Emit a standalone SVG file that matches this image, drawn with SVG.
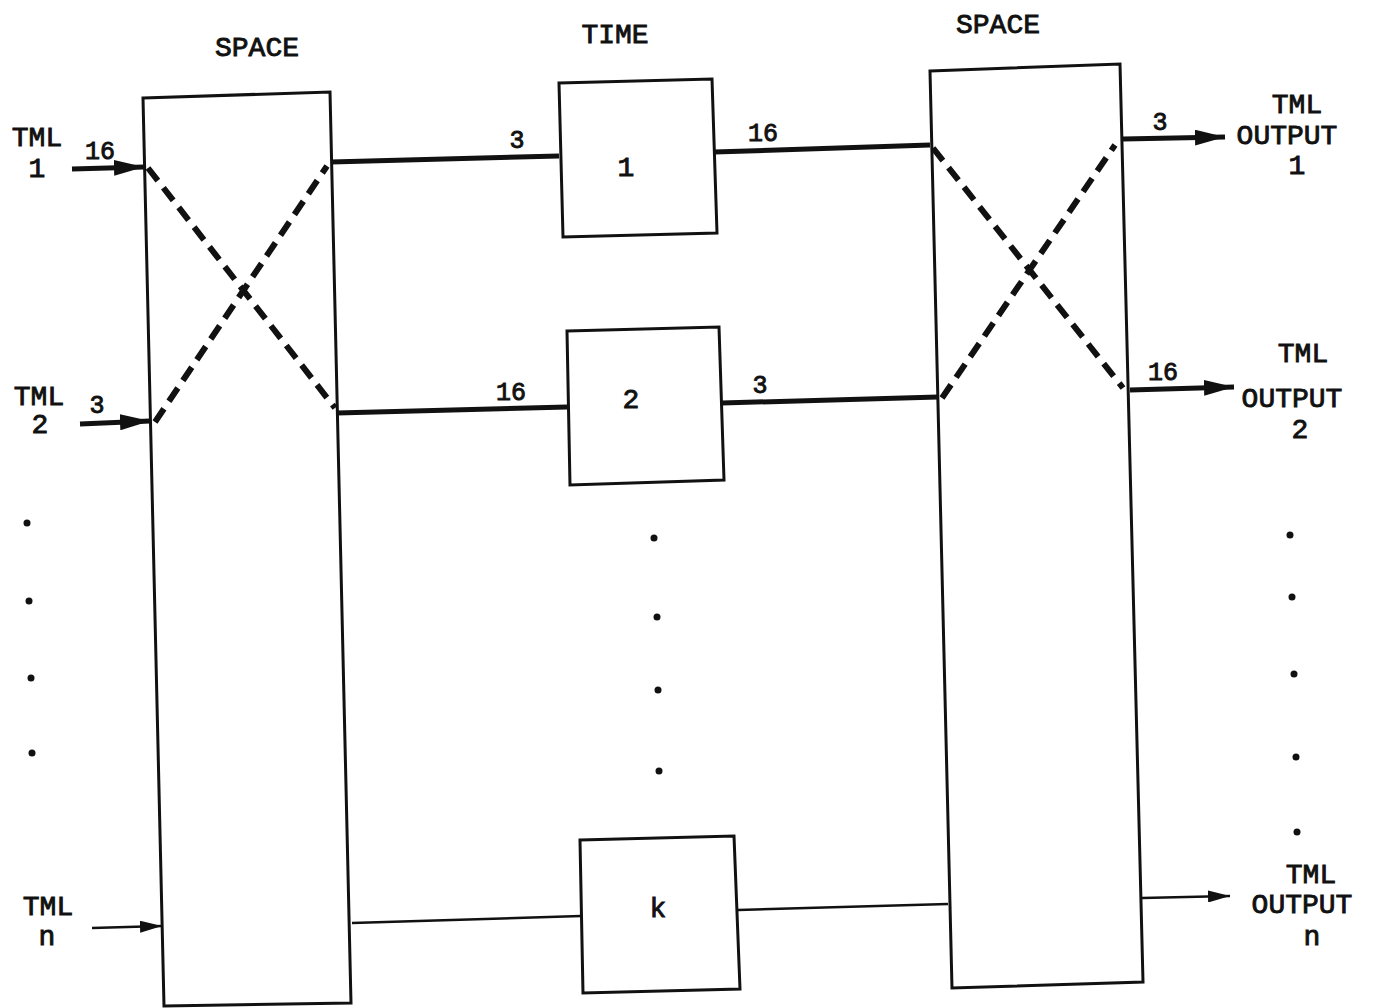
<svg xmlns="http://www.w3.org/2000/svg" width="1375" height="1008" viewBox="0 0 1375 1008">
<style>
.box{fill:none;stroke:#111;stroke-width:3;stroke-linejoin:miter}
.thick{fill:none;stroke:#111;stroke-width:5}
.thin{fill:none;stroke:#111;stroke-width:2.5}
.dash{fill:none;stroke:#111;stroke-width:6;stroke-dasharray:16 9}
text{font-family:"Liberation Mono","DejaVu Sans Mono",monospace;font-weight:normal;fill:#111;stroke:#111;stroke-width:0.9;text-anchor:middle}
.lbl{font-size:28px}
.num{font-size:25px}
.dot{fill:#111}
</style>
<defs>
<marker id="ah" markerWidth="30" markerHeight="16" refX="30" refY="8" orient="auto" markerUnits="userSpaceOnUse">
<path d="M0,0 L30,8 L0,16 Z" fill="#111"/>
</marker>
<marker id="ahs" markerWidth="22" markerHeight="12" refX="22" refY="6" orient="auto" markerUnits="userSpaceOnUse">
<path d="M0,0 L22,6 L0,12 Z" fill="#111"/>
</marker>
</defs>
<rect width="1375" height="1008" fill="#fff"/>

<g id="space-left">
<polygon class="box" points="143,98 330,92 351,1003 164,1006"/>
<text class="lbl" x="257" y="56">SPACE</text>
</g>
<g id="time-1">
<polygon class="box" points="559,83 712,79 717,233 563,237"/>
<text class="lbl" x="626" y="176">1</text>
</g>
<g id="time-2">
<polygon class="box" points="567,331 719,327 724,480 570,485"/>
<text class="lbl" x="631" y="408">2</text>
</g>
<g id="time-k">
<polygon class="box" points="580,840 734,836 740,989 583,993"/>
<text class="lbl" x="658" y="917">k</text>
</g>
<text class="lbl" x="615" y="43">TIME</text>
<g id="space-right">
<polygon class="box" points="930,71 1120,64 1143,982 952,988"/>
<text class="lbl" x="998" y="33">SPACE</text>
</g>

<g id="inputs">
<text class="lbl" x="37" y="146">TML</text>
<text class="lbl" x="37" y="177">1</text>
<text class="lbl" x="39" y="405">TML</text>
<text class="lbl" x="40" y="433">2</text>
<text class="lbl" x="48" y="915">TML</text>
<text class="lbl" x="47" y="945">n</text>
</g>
<g id="outputs">
<text class="lbl" x="1297" y="113">TML</text>
<text class="lbl" x="1287" y="144">OUTPUT</text>
<text class="lbl" x="1297" y="174">1</text>
<text class="lbl" x="1303" y="362">TML</text>
<text class="lbl" x="1292" y="407">OUTPUT</text>
<text class="lbl" x="1300" y="438">2</text>
<text class="lbl" x="1311" y="883">TML</text>
<text class="lbl" x="1302" y="913">OUTPUT</text>
<text class="lbl" x="1312" y="945">n</text>
</g>

<g id="connectors">
<line class="thick" x1="72" y1="169" x2="144" y2="167" marker-end="url(#ah)"/>
<line class="thick" x1="80" y1="424" x2="150" y2="421" marker-end="url(#ah)"/>
<line class="thin" x1="92" y1="928" x2="162" y2="926" marker-end="url(#ahs)"/>
<line class="dash" x1="148" y1="168" x2="335" y2="408"/>
<line class="dash" x1="155" y1="422" x2="327" y2="166"/>
<line class="thick" x1="331" y1="162" x2="559" y2="156"/>
<line class="thick" x1="337" y1="413" x2="567" y2="407"/>
<line class="thin" x1="352" y1="923" x2="581" y2="916"/>
<line class="thick" x1="714" y1="152" x2="930" y2="145"/>
<line class="thick" x1="722" y1="403" x2="938" y2="397"/>
<line class="thin" x1="738" y1="910" x2="948" y2="904"/>
<line class="dash" x1="933" y1="148" x2="1123" y2="388"/>
<line class="dash" x1="942" y1="398" x2="1115" y2="145"/>
<line class="thick" x1="1123" y1="139" x2="1225" y2="137" marker-end="url(#ah)"/>
<line class="thick" x1="1130" y1="390" x2="1234" y2="387" marker-end="url(#ah)"/>
<line class="thin" x1="1142" y1="898" x2="1230" y2="896" marker-end="url(#ahs)"/>
<text class="num" x="100" y="159">16</text>
<text class="num" x="97" y="413">3</text>
<text class="num" x="517" y="148">3</text>
<text class="num" x="511" y="400">16</text>
<text class="num" x="763" y="141">16</text>
<text class="num" x="760" y="393">3</text>
<text class="num" x="1160" y="130">3</text>
<text class="num" x="1163" y="380">16</text>
</g>

<g id="dots">
<circle class="dot" cx="27" cy="523" r="3.5"/>
<circle class="dot" cx="29" cy="601" r="3.5"/>
<circle class="dot" cx="31" cy="678" r="3.5"/>
<circle class="dot" cx="32" cy="753" r="3.5"/>
<circle class="dot" cx="654" cy="538" r="3.5"/>
<circle class="dot" cx="657" cy="617" r="3.5"/>
<circle class="dot" cx="658" cy="690" r="3.5"/>
<circle class="dot" cx="659" cy="771" r="3.5"/>
<circle class="dot" cx="1290" cy="535" r="3.5"/>
<circle class="dot" cx="1292" cy="597" r="3.5"/>
<circle class="dot" cx="1294" cy="674" r="3.5"/>
<circle class="dot" cx="1296" cy="757" r="3.5"/>
<circle class="dot" cx="1297" cy="832" r="3.5"/>
</g>
</svg>
